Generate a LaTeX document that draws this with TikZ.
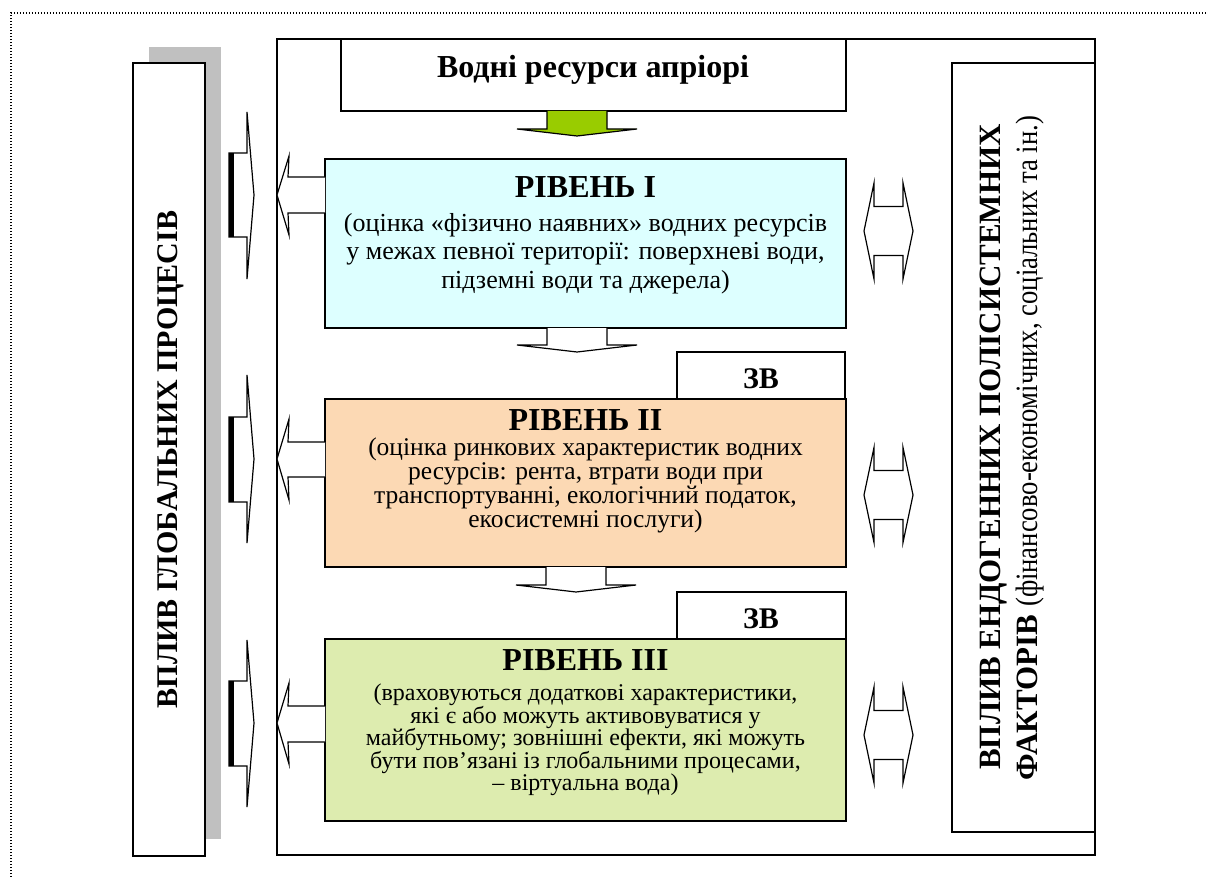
\documentclass[tikz,border=0pt]{standalone}
\usepackage{fontspec}
\setmainfont{Liberation Serif}
\definecolor{cI}{RGB}{221,255,255}
\definecolor{cII}{RGB}{252,217,180}
\definecolor{cIII}{RGB}{221,236,175}
\definecolor{arrgreen}{RGB}{153,204,0}
\definecolor{shadowgray}{RGB}{192,192,192}
\begin{document}
\begin{tikzpicture}[x=1pt,y=-1pt,
  box/.style={draw, line width=1.3pt, inner sep=0pt, outer sep=0pt, rectangle},
  blockarrow/.style={draw, line width=1.2pt, line join=miter, fill=white},
  bodyI/.style={inner sep=0pt, anchor=base, font=\fontsize{26}{28}\selectfont},
  bodyII/.style={inner sep=0pt, anchor=base, font=\fontsize{25.5}{28}\selectfont},
  bodyIII/.style={inner sep=0pt, anchor=base, font=\fontsize{24}{26}\selectfont},
  titletext/.style={inner sep=0pt, anchor=base, font=\fontsize{32}{36}\selectfont\bfseries},
  zvtext/.style={inner sep=0pt, anchor=base, font=\fontsize{30}{34}\selectfont\bfseries}
]
\useasboundingbox (0,0) rectangle (1207,877);
% dotted frame
\draw[line width=1.3pt, dash pattern=on 1.3pt off 1.7pt] (11,877) -- (11,13) -- (1207,13);

% left box with shadow
\node[fill=shadowgray, inner sep=0pt, minimum width=72pt, minimum height=792pt] (shadow) at (185,443) {};
\node[box, fill=white, minimum width=72pt, minimum height=793pt] (leftbox) at (169,459.5) {};
\node[rotate=90, inner sep=0pt, font=\fontsize{30}{34}\selectfont\bfseries] (lefttext) at (171,459.5) {ВПЛИВ ГЛОБАЛЬНИХ ПРОЦЕСІВ};

% main box
\node[box, minimum width=818pt, minimum height=816pt] (main) at (686,447) {};
% top box
\node[box, fill=white, minimum width=505pt, minimum height=72pt] (top) at (593.5,75) {};
\node[inner sep=0pt, anchor=base, font=\fontsize{32}{36}\selectfont\bfseries] (toptext) at (593,78) {Водні ресурси апріорі};

% right box
\node[box, fill=white, minimum width=143pt, minimum height=769pt] (rightbox) at (1023.5,447.5) {};
\node[rotate=90, anchor=base, inner sep=0pt, font=\fontsize{31}{36}\selectfont\bfseries] (rt1) at (1000,447) {ВПЛИВ ЕНДОГЕННИХ ПОЛІСИСТЕМНИХ};
\node[rotate=90, anchor=base, inner sep=0pt, font=\fontsize{31}{36}\selectfont] (rt2) at (1037,448) {\textbf{ФАКТОРІВ} \scalebox{0.86}[1]{(фінансово-економічних, соціальних та ін.)}};

% level I
\node[box, fill=cI, minimum width=521pt, minimum height=169pt] (lvI) at (585.5,243.5) {};
\node[titletext] (tI) at (585.5,198) {РІВЕНЬ I};
\node[bodyI] (bI1) at (585.5,232) {(оцінка «фізично наявних» водних ресурсів};
\node[bodyI] (bI2) at (585.5,260) {у межах певної території: поверхневі води,};
\node[bodyI] (bI3) at (585.5,288) {підземні води та джерела)};

% level II
\node[box, fill=white, minimum width=168pt, minimum height=47pt] (zvII) at (761,375.5) {};
\node[zvtext] (zvIIt) at (761,388) {ЗВ};
\node[box, fill=cII, minimum width=521pt, minimum height=168pt] (lvII) at (585.5,483) {};
\node[titletext] (tII) at (585.5,430) {РІВЕНЬ II};
\node[bodyII] (bII1) at (585.5,455) {(оцінка ринкових характеристик водних};
\node[bodyII] (bII2) at (585.5,479) {ресурсів: рента, втрати води при};
\node[bodyII] (bII3) at (585.5,503) {транспортуванні, екологічний податок,};
\node[bodyII] (bII4) at (585.5,527) {екосистемні послуги)};

% level III
\node[box, fill=white, minimum width=169pt, minimum height=47pt] (zvIII) at (761.5,615.5) {};
\node[zvtext] (zvIIIt) at (761,628) {ЗВ};
\node[box, fill=cIII, minimum width=521pt, minimum height=182pt] (lvIII) at (585.5,730) {};
\node[titletext] (tIII) at (585.5,670) {РІВЕНЬ III};
\node[bodyIII] (bIII1) at (585.5,700) {(враховуються додаткові характеристики,};
\node[bodyIII] (bIII2) at (585.5,723) {які є або можуть активовуватися у};
\node[bodyIII] (bIII3) at (585.5,745.5) {майбутньому; зовнішні ефекти, які можуть};
\node[bodyIII] (bIII4) at (585.5,768) {бути пов’язані із глобальними процесами,};
\node[bodyIII] (bIII5) at (585.5,790.5) {– віртуальна вода)};

% green down arrow
\draw[blockarrow, fill=arrgreen] (547,111) -- (547,129) -- (517,129) -- (577,136) -- (637,129) -- (607,129) -- (607,111);
% down arrows
\draw[blockarrow] (547,328) -- (547,345) -- (517,345) -- (577,352) -- (637,345) -- (607,345) -- (607,328);
\draw[blockarrow] (546,567) -- (546,585) -- (516,585) -- (576,592) -- (636,585) -- (606,585) -- (606,567);

% left-pointing arrows from levels
\draw[blockarrow] (325,177) -- (288,177) -- (289,156) -- (277,195) -- (289,235) -- (288,213) -- (325,213);
\draw[blockarrow] (325,442) -- (288,442) -- (289,419) -- (277,459) -- (289,500) -- (288,477) -- (325,477);
\draw[blockarrow] (325,706) -- (288,706) -- (289,683) -- (277,723) -- (289,764) -- (288,742) -- (325,742);

% right-pointing arrows towards left box region
\foreach \c/\bt/\bb/\ht/\hb in {195/153/237/112/279, 459/417/502/375/543, 723/681/766/640/807}{
  \draw[blockarrow] (229,\bt) -- (247,\bt) -- (247,\ht) -- (254,\c) -- (247,\hb) -- (247,\bb) -- (229,\bb) -- cycle;
  \draw[line width=4.5pt] (231.5,\bt) -- (231.5,\bb);
}

% double arrows on right
\foreach \c/\h/\b in {231/48/24.5, 495/47.5/24.5, 735/48/24.5}{
  \draw[blockarrow] (864,\c) -- (874,\c-\h) -- (874,\c-\b) -- (903,\c-\b) -- (903,\c-\h) -- (913,\c) -- (903,\c+\h) -- (903,\c+\b) -- (874,\c+\b) -- (874,\c+\h) -- cycle;
}
\end{tikzpicture}
\end{document}
